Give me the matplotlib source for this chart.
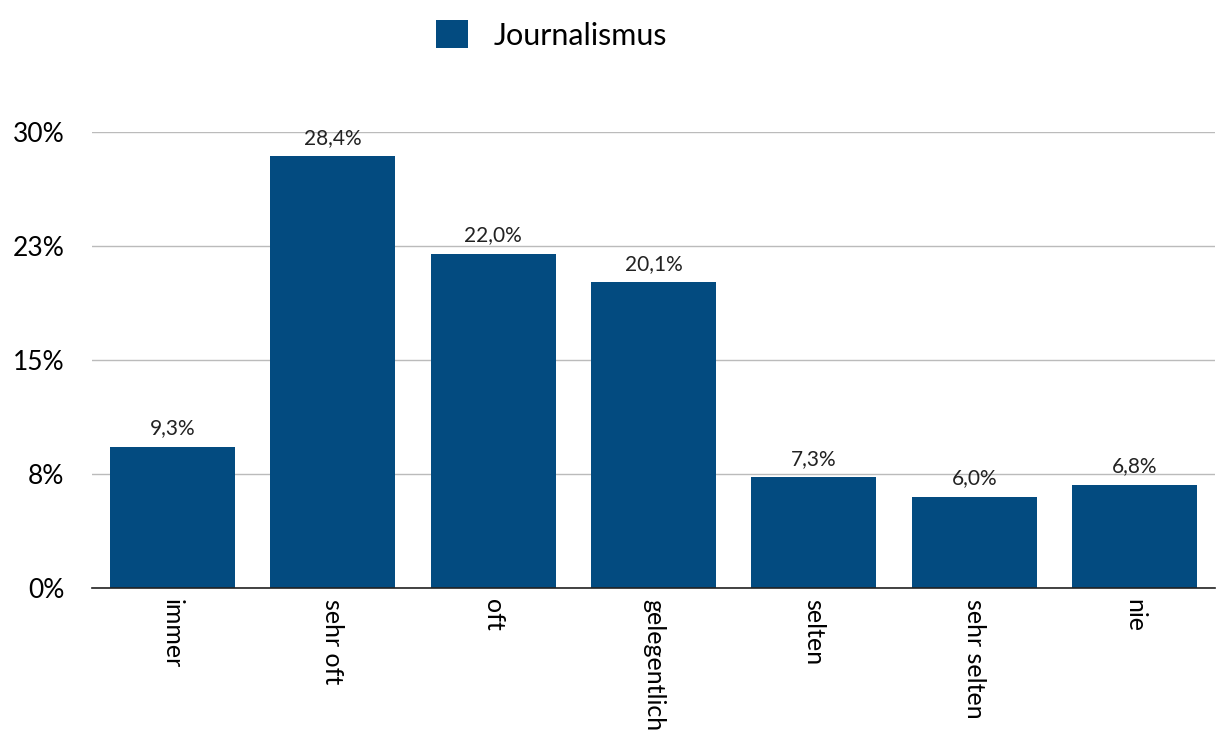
import matplotlib.pyplot as plt
from matplotlib.ticker import FixedLocator

categories = ['immer', 'sehr oft', 'oft', 'gelegentlich', 'selten', 'sehr selten', 'nie']
values = [9.3, 28.4, 22.0, 20.1, 7.3, 6.0, 6.8]
yticks = [0, 7.5, 15, 22.5, 30]
ytick_labels = ['0%', '8%', '15%', '23%', '30%']
series_name = 'Journalismus'

BAR = '#034b80'
plt.rcParams['font.family'] = ['Lato', 'DejaVu Sans']

fig = plt.figure(figsize=(12.18, 7.37), dpi=100)
ax = fig.add_axes([92/1218, 1 - 588/737, 1123/1218, 456/737])

x = range(len(categories))
bars = ax.bar(x, values, width=0.78, color=BAR, label=series_name, zorder=3)
for b, v in zip(bars, values):
    ax.text(b.get_x() + b.get_width()/2, v + 0.55, ('%.1f%%' % v).replace('.', ','),
            ha='center', va='bottom', fontsize=15, color='#222222')

ax.set_xlim(-0.5, len(categories) - 0.5)
ax.set_ylim(0, 30)
ax.yaxis.set_major_locator(FixedLocator(yticks))
ax.set_yticklabels(ytick_labels, fontsize=19)
ax.set_xticks(list(x))
ax.set_xticklabels(categories, rotation=270, fontsize=18, va='top', ha='center')
ax.tick_params(axis='both', length=0, pad=8)
ax.tick_params(axis='y', pad=20)
ax.grid(axis='y', color='#bbbbbb', linewidth=1, zorder=0)
for s in ['top', 'right', 'left']:
    ax.spines[s].set_visible(False)
ax.spines['bottom'].set_color('#222222')
ax.spines['bottom'].set_linewidth(1.2)
ax.spines['bottom'].set_zorder(4)

fig.legend(loc='upper center', bbox_to_anchor=(0.453, 1.01), frameon=False, fontsize=22,
           handlelength=1.05, handleheight=1.05, handletextpad=0.85)

fig.savefig('out.png', dpi=100)
